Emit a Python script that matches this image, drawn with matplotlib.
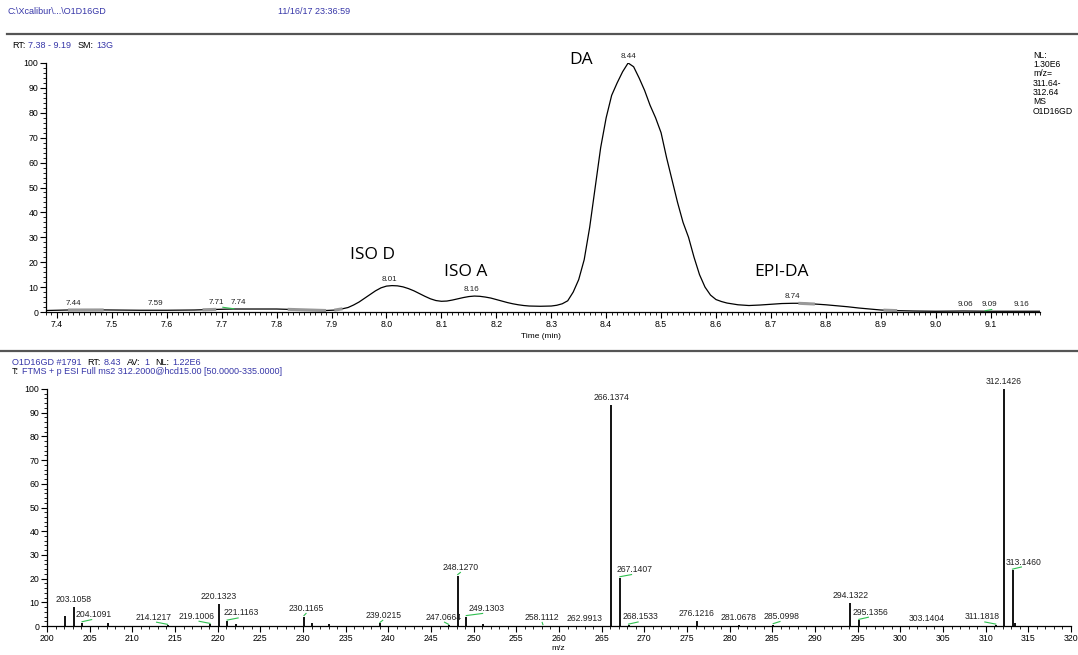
import matplotlib
matplotlib.use("Agg")
import matplotlib.pyplot as plt
from matplotlib.ticker import MultipleLocator
import numpy as np

# --- chromatogram (relative abundance vs retention time) -------------------
rt_min = [
    7.38, 7.42, 7.45, 7.50, 7.55, 7.60, 7.65, 7.68, 7.72, 7.76, 7.80, 7.83,
    7.86, 7.89, 7.91, 7.93, 7.94, 7.95, 7.96, 7.97, 7.98, 7.99, 8.00, 8.01,
    8.02, 8.03, 8.04, 8.05, 8.06, 8.07, 8.08, 8.09, 8.10, 8.11, 8.12, 8.13,
    8.14, 8.15, 8.16, 8.17, 8.18, 8.19, 8.20, 8.21, 8.22, 8.23, 8.24, 8.25,
    8.26, 8.28, 8.30, 8.31, 8.32, 8.33, 8.34, 8.35, 8.36, 8.37, 8.38, 8.39,
    8.40, 8.41, 8.42, 8.43, 8.44, 8.45, 8.46, 8.47, 8.48, 8.49, 8.50,
    8.51, 8.52, 8.53, 8.54, 8.55, 8.56, 8.57, 8.58, 8.59, 8.60, 8.61, 8.62,
    8.64, 8.66, 8.68, 8.70, 8.72, 8.74, 8.76, 8.78, 8.80, 8.82, 8.84, 8.86,
    8.88, 8.90, 8.92, 8.94, 8.96, 9.00, 9.05, 9.10, 9.15, 9.19,
]
rel_abund = [
    0.6, 0.8, 0.9, 0.8, 0.7, 0.7, 0.8, 1.0, 1.2, 1.2, 1.2, 1.0,
    0.7, 0.6, 0.8, 1.8, 2.8, 4.0, 5.5, 7.0, 8.5, 9.7, 10.4, 10.6,
    10.5, 10.1, 9.4, 8.5, 7.4, 6.3, 5.3, 4.6, 4.3, 4.4, 4.8, 5.3,
    5.8, 6.2, 6.4, 6.3, 6.0, 5.6, 5.0, 4.4, 3.8, 3.3, 2.9, 2.6,
    2.4, 2.3, 2.4, 2.7, 3.3, 4.5, 8.0, 13.0, 21.0, 34.0, 50.0, 66.0,
    78.0, 87.0, 92.0, 96.5, 100.0, 98.5, 94.0, 89.0, 83.0, 78.0, 72.0,
    62.0, 53.0, 44.0, 36.0, 30.0, 22.0, 15.0, 10.0, 6.8, 5.0, 4.2, 3.6,
    2.9, 2.6, 2.8, 3.1, 3.4, 3.5, 3.5, 3.2, 2.9, 2.5, 2.1, 1.6,
    1.2, 0.8, 0.6, 0.5, 0.4, 0.3, 0.4, 0.3, 0.3, 0.3,
]
rt_peak_labels = ["7.44", "7.59", "7.71", "7.74", "8.01", "8.16", "8.44", "8.74", "9.06", "9.09", "9.16"]
rt_peak_x = [7.43, 7.58, 7.69, 7.73, 8.005, 8.155, 8.44, 8.74, 9.055, 9.098, 9.156]
rt_peak_y = [0.9, 0.7, 1.1, 1.2, 10.6, 6.4, 100.0, 3.5, 0.4, 0.3, 0.3]
noise_ranges = [(7.42, 7.485), (7.665, 7.69), (7.82, 7.89), (7.905, 7.92), (8.75, 8.78), (8.905, 8.93)]

compound_names = ["ISO D", "ISO A", "DA", "EPI-DA"]
compound_x = [7.975, 8.145, 8.355, 8.72]
compound_y = [19.5, 13.0, 98.0, 13.0]

# --- MS2 spectrum ------------------------------------------------------------
mz = [202.10, 203.1058, 204.1091, 207.10, 214.1217, 219.1006, 220.1323, 221.1163,
      222.10, 230.1165, 231.10, 233.10, 239.0215, 247.0664, 248.1270, 249.1303,
      251.10, 258.1112, 262.9913, 266.1374, 267.1407, 268.1533, 276.1216, 281.0678,
      285.0998, 294.1322, 295.1356, 303.1404, 311.1818, 312.1426, 313.1460, 313.40]
intensity = [4.3, 8.2, 1.4, 1.1, 0.3, 0.7, 9.4, 2.1,
             0.9, 4.0, 1.3, 0.9, 1.1, 0.3, 21.3, 4.0,
             0.7, 0.2, 0.2, 93.3, 20.4, 0.4, 2.2, 0.3,
             0.6, 9.6, 2.4, 0.2, 0.4, 100.0, 23.6, 1.3]
labeled_mz = ["203.1058", "204.1091", "214.1217", "219.1006", "220.1323", "221.1163",
              "230.1165", "239.0215", "247.0664", "248.1270", "249.1303", "258.1112",
              "262.9913", "266.1374", "267.1407", "268.1533", "276.1216", "281.0678",
              "285.0998", "294.1322", "295.1356", "303.1404", "311.1818", "312.1426",
              "313.1460"]
# horizontal shift of each label from its peak (m/z units); non-zero gets a green leader
label_shift = [0, 1.4, -1.6, -1.6, 0, 1.6,
               0.3, 0.4, -0.6, 0.4, 2.4, -0.1,
               0, 0, 1.7, 1.4, 0, 0,
               1.0, 0, 1.4, 0, -1.6, 0,
               1.3]

BLUE = "#3636a8"
FONT = ["Liberation Sans", "DejaVu Sans"]
plt.rcParams["font.family"] = FONT

W, H = 1078, 655
fig = plt.figure(figsize=(W / 100, H / 100), dpi=100)


def px(x, y):
    return x / W, 1 - y / H


def chain_text(x, y, parts, size=6.5):
    """Draw text pieces one after another (black/blue runs like Xcalibur headers)."""
    renderer = fig.canvas.get_renderer()
    fx, fy = px(x, y)
    for s, color, gap in parts:
        t = fig.text(fx, fy, s, color=color, fontsize=size, va="center", ha="left")
        bb = t.get_window_extent(renderer=renderer)
        fx = (bb.x1 + gap) / W


def style_axes(ax):
    for side in ("top", "right"):
        ax.spines[side].set_visible(False)
    for side in ("left", "bottom"):
        ax.spines[side].set_linewidth(0.9)
    ax.tick_params(which="major", direction="out", length=4, width=0.8,
                   labelsize=6.3, pad=1.5)
    ax.tick_params(which="minor", direction="out", length=2.5, width=0.6)
    ax.patch.set_alpha(0)


# header
chain_text(8, 12, [("C:\\Xcalibur\\...\\O1D16GD", BLUE, 0)])
chain_text(278, 12, [("11/16/17 23:36:59", BLUE, 0)])
fig.add_artist(plt.Line2D([7 / W, 1], [1 - 34 / H] * 2, color="#555555", lw=1.6))
chain_text(12, 45, [("RT:", "black", 3), ("7.38 - 9.19", BLUE, 6),
                    ("SM:", "black", 3), ("13G", BLUE, 0)])

# top chromatogram
ax1 = fig.add_axes([46 / W, 1 - 312 / H, (1040 - 46) / W, (312 - 63) / H])
ax1.plot(rt_min, rel_abund, color="black", lw=0.9)
for a, b in noise_ranges:
    ax1.plot([a, b], [np.interp(a, rt_min, rel_abund), np.interp(b, rt_min, rel_abund)],
             color="#999999", lw=2.2, solid_capstyle="butt")
ax1.set_xlim(7.38, 9.19)
ax1.set_ylim(0, 100)
ax1.xaxis.set_major_locator(MultipleLocator(0.1))
ax1.xaxis.set_minor_locator(MultipleLocator(0.01))
ax1.yaxis.set_major_locator(MultipleLocator(10))
ax1.yaxis.set_minor_locator(MultipleLocator(2))
ax1.xaxis.set_major_formatter(plt.FuncFormatter(lambda v, p: f"{v:.1f}"))
style_axes(ax1)
for lab, x, y in zip(rt_peak_labels, rt_peak_x, rt_peak_y):
    ax1.text(x, y + 1.2, lab, fontsize=5.8, ha="center", va="bottom", color="#222222")
ax1.plot([7.702, 7.722], [1.9, 1.3], color="#2fbf4f", lw=0.8)
ax1.plot([9.09, 9.102], [0.5, 1.0], color="#2fbf4f", lw=0.8)
for name, x, y in zip(compound_names, compound_x, compound_y):
    ax1.text(x, y, name, fontsize=12.5, family=["Open Sans", "DejaVu Sans"],
             ha="center", va="bottom", clip_on=False)
fig.text(*px(541, 337), "Time (min)", fontsize=6, ha="center", va="center")

# NL block
for i, line in enumerate(["NL:", "1.30E6", "m/z=", "311.64-", "312.64", "MS", "O1D16GD"]):
    fig.text(*px(1033, 55 + i * 9.4), line, fontsize=6.2, ha="left", va="center")

fig.add_artist(plt.Line2D([0, 1], [1 - 351 / H] * 2, color="#555555", lw=1.6))

# spectrum header
chain_text(12, 362, [("O1D16GD #1791", BLUE, 6), ("RT:", "black", 3), ("8.43", BLUE, 6),
                     ("AV:", "black", 3), ("1", BLUE, 6), ("NL:", "black", 3),
                     ("1.22E6", BLUE, 0)])
chain_text(12, 372, [("T:", "black", 3),
                     ("FTMS + p ESI Full ms2 312.2000@hcd15.00 [50.0000-335.0000]", BLUE, 0)])

# bottom spectrum
ax2 = fig.add_axes([47 / W, 1 - 626 / H, (1071 - 47) / W, (626 - 389) / H])
ax2.vlines(mz, 0, intensity, color="black", lw=1.3)
ax2.set_xlim(200, 320)
ax2.set_ylim(0, 100)
ax2.xaxis.set_major_locator(MultipleLocator(5))
ax2.xaxis.set_minor_locator(MultipleLocator(1))
ax2.yaxis.set_major_locator(MultipleLocator(10))
ax2.yaxis.set_minor_locator(MultipleLocator(2))
style_axes(ax2)
peak_h = dict(zip([f"{m:.4f}" for m in mz], intensity))
for lab, dx in zip(labeled_mz, label_shift):
    x = float(lab)
    h = peak_h[lab]
    if dx != 0 and h < 30:
        ax2.plot([x, x + dx * 0.8], [h + 0.4, h + 1.3], color="#2fbf4f", lw=0.8)
        ax2.text(x + dx, h + 1.5, lab, fontsize=6.2, ha="center", va="bottom", color="#222222")
    else:
        ax2.text(x + dx, h + 1.2, lab, fontsize=6.2, ha="center", va="bottom", color="#222222")
fig.text(*px(558, 648), "m/z", fontsize=6, ha="center", va="center")

fig.savefig("out.png", dpi=100)
